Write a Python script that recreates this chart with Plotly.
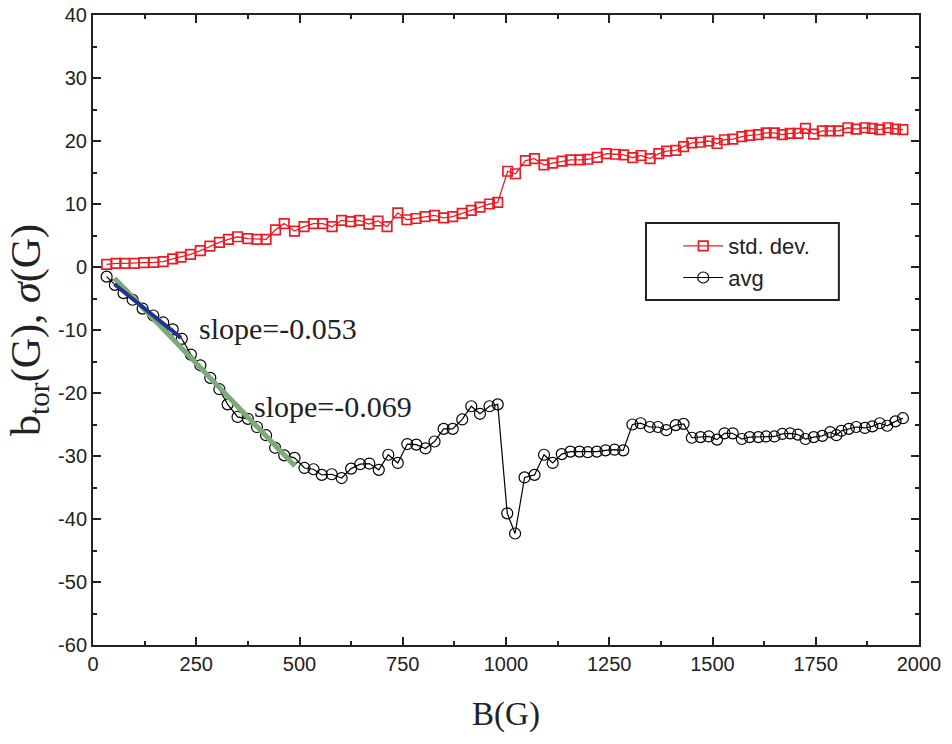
import plotly.graph_objects as go

# ---- data ----
x_std = [33, 56, 77, 100, 123, 147, 170, 193, 213, 236, 260, 283, 306, 328, 350, 375, 397, 419, 442, 463,
         488, 511, 534, 556, 579, 602, 624, 645, 668, 690, 712, 738, 760, 782, 804, 827, 849, 871, 894, 916,
         937, 960, 980, 1004, 1023, 1047, 1069, 1092, 1113, 1136, 1156, 1180, 1198, 1221, 1243, 1265, 1285,
         1307, 1327, 1349, 1370, 1389, 1411, 1430, 1450, 1471, 1491, 1511, 1529, 1549, 1571, 1590, 1611,
         1630, 1650, 1669, 1688, 1707, 1725, 1745, 1766, 1785, 1805, 1828, 1848, 1869, 1887, 1905, 1925,
         1943, 1961]
std_dev = [0.43, 0.58, 0.58, 0.58, 0.68, 0.74, 0.84, 1.3, 1.58, 2.0, 2.6, 3.3, 3.9, 4.4, 4.8, 4.5, 4.4, 4.4,
           5.9, 6.9, 5.7, 6.4, 6.9, 6.9, 6.4, 7.4, 7.2, 7.4, 6.8, 7.3, 6.4, 8.6, 7.5, 7.7, 8.0, 8.2, 7.8, 8.0,
           8.5, 9.0, 9.5, 10.0, 10.25, 15.2, 14.8, 16.9, 17.2, 16.2, 16.5, 16.8, 17.0, 17.0, 17.1, 17.4, 18.0,
           17.9, 17.8, 17.35, 17.7, 17.2, 18.0, 18.4, 18.5, 19.1, 19.7, 19.8, 20.0, 19.6, 20.2, 20.3, 20.7,
           20.9, 21.0, 21.3, 21.3, 21.0, 21.2, 21.2, 22.0, 21.1, 21.6, 21.6, 21.6, 22.1, 21.9, 22.1, 22.0,
           21.8, 22.1, 21.9, 21.8]

x_avg = [33, 53, 74, 96, 120, 146, 170, 193, 215, 237, 260, 284, 306, 326, 350, 375, 397, 419, 441, 463,
         488, 512, 534, 554, 578, 602, 625, 647, 669, 692, 715, 738, 761, 783, 805, 827, 849, 871, 894, 916,
         937, 960, 980, 1003, 1022, 1045, 1069, 1092, 1113, 1135, 1156, 1178, 1198, 1220, 1241, 1263, 1284,
         1306, 1326, 1348, 1368, 1388, 1411, 1430, 1450, 1471, 1491, 1511, 1529, 1549, 1571, 1590, 1611,
         1630, 1650, 1669, 1688, 1707, 1725, 1745, 1766, 1785, 1800, 1812, 1830, 1848, 1869, 1887, 1905,
         1923, 1943, 1961]
avg = [-1.53, -2.84, -4.15, -5.2, -6.6, -7.7, -8.8, -9.9, -11.4, -13.9, -15.6, -17.6, -19.4, -21.8, -23.8,
       -24.1, -25.4, -26.7, -28.7, -29.9, -30.3, -31.9, -32.1, -33.0, -32.9, -33.5, -32.0, -31.3, -31.2,
       -32.2, -29.8, -31.1, -28.1, -28.2, -28.8, -27.7, -25.7, -25.7, -24.2, -22.1, -23.3, -22.1, -21.8,
       -39.1, -42.3, -33.4, -33.0, -29.8, -31.1, -29.7, -29.3, -29.3, -29.4, -29.3, -29.1, -29.0, -29.1,
       -25.0, -24.8, -25.4, -25.4, -25.9, -25.1, -24.9, -27.1, -27.0, -26.9, -27.4, -26.4, -26.4, -27.3,
       -27.0, -27.0, -26.9, -26.9, -26.5, -26.4, -26.6, -27.3, -27.0, -26.8, -26.2, -26.7, -26.0, -25.7,
       -25.4, -25.55, -25.3, -24.8, -25.2, -24.5, -24.0]

fit1_x = [52, 213]
fit1_y = [-2.73, -11.25]
fit2_x = [52, 489]
fit2_y = [-1.78, -31.6]

x_ticks = [0, 250, 500, 750, 1000, 1250, 1500, 1750, 2000]
x_tick_text = ["0", "250", "500", "750", "1000", "1250", "1500", "1750", "2000"]
y_ticks = [40, 30, 20, 10, 0, -10, -20, -30, -40, -50, -60]
y_tick_text = ["40", "30", "20", "10", "0", "-10", "-20", "-30", "-40", "-50", "-60"]

RED = "#ec1c24"
SANS = "Liberation Sans, Arial, sans-serif"
SERIF = "Liberation Serif, Times New Roman, serif"

fig = go.Figure()
fig.add_trace(go.Scatter(x=x_std, y=std_dev, mode="lines+markers", name="std. dev.",
                         line=dict(color=RED, width=1.3),
                         marker=dict(symbol="square-open", size=9.5, color=RED, line=dict(width=1.7))))
fig.add_trace(go.Scatter(x=x_avg, y=avg, mode="lines+markers", name="avg",
                         line=dict(color="black", width=1.2),
                         marker=dict(symbol="circle-open", size=11, color="black", line=dict(width=1.2))))
fig.add_trace(go.Scatter(x=fit2_x, y=fit2_y, mode="lines", showlegend=False,
                         line=dict(color="#7aab78", width=5)))
fig.add_trace(go.Scatter(x=fit1_x, y=fit1_y, mode="lines", showlegend=False,
                         line=dict(color="#23318f", width=4)))

fig.add_annotation(x=252, y=-9.7, xref="x", yref="y", text="slope=-0.053", showarrow=False,
                   xanchor="left", yanchor="middle", font=dict(family=SERIF, size=30, color="#222"))
fig.add_annotation(x=385, y=-22.2, xref="x", yref="y", text="slope=-0.069", showarrow=False,
                   xanchor="left", yanchor="middle", font=dict(family=SERIF, size=30, color="#222"))

# legend frame
fig.add_shape(type="rect", xref="paper", yref="paper", x0=0.6695, x1=0.903, y0=0.5476, y1=0.670,
              line=dict(color="#222", width=2), fillcolor="white", layer="below")

axis_common = dict(showline=True, linecolor="#222", linewidth=2, mirror="ticks", ticks="inside",
                   ticklen=8, tickwidth=1.5, tickcolor="#222", showgrid=False, zeroline=False,
                   ticklabeloverflow="allow", automargin=False,
                   tickfont=dict(family=SANS, size=20, color="#222"))

fig.update_layout(
    width=952, height=744,
    margin=dict(l=93, r=33, t=15, b=99),
    paper_bgcolor="white", plot_bgcolor="rgba(0,0,0,0)",
    xaxis=dict(range=[0, 2000], tickvals=x_ticks, ticktext=x_tick_text,
               minor=dict(dtick=125, ticks="inside", ticklen=4, tickcolor="#222", tick0=0),
               title=dict(text="B(G)", font=dict(family=SERIF, size=33, color="#222"), standoff=28),
               **axis_common),
    yaxis=dict(range=[-60, 40], tickvals=y_ticks, ticktext=y_tick_text,
               minor=dict(dtick=5, ticks="inside", ticklen=4, tickcolor="#222", tick0=0),
               title=dict(text="b<sub>tor</sub>(G), <i>σ</i>(G)", font=dict(family=SERIF, size=42, color="#222"),
                          standoff=4),
               **axis_common),
    showlegend=True,
    legend=dict(x=0.7085, y=0.6665, xanchor="left", yanchor="top", bgcolor="rgba(0,0,0,0)",
                borderwidth=0, font=dict(family=SANS, size=22, color="#222"), itemwidth=40),
)

fig.write_html("out.html", config={"displayModeBar": False},
               post_script="document.body.style.margin='0';")
